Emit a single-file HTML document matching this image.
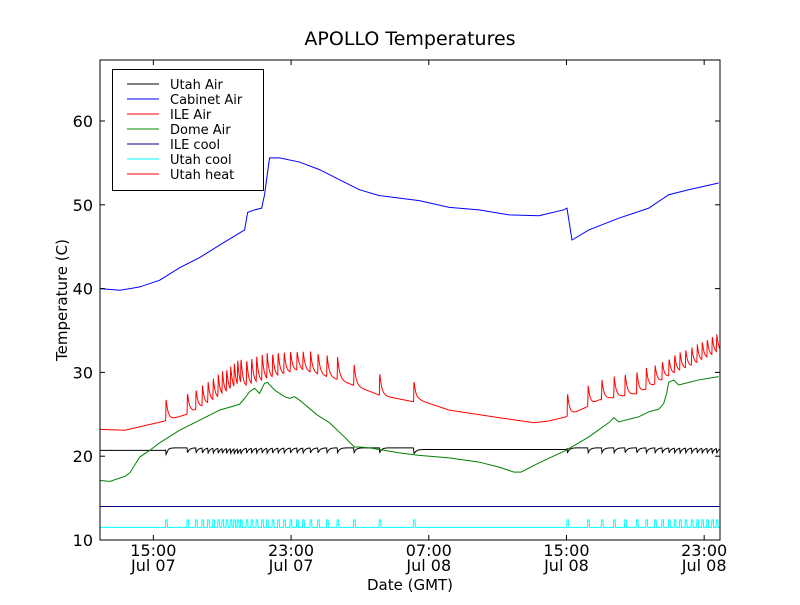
<!DOCTYPE html>
<html><head><meta charset="utf-8"><style>
body{margin:0;background:#fff;}
svg text{font-family:"DejaVu Sans","Liberation Sans",sans-serif;}
</style></head><body>
<svg id="chart" width="800" height="600" xmlns="http://www.w3.org/2000/svg">
<rect width="800" height="600" fill="#fff"/>
<text x="410" y="45" font-size="19" text-anchor="middle">APOLLO Temperatures</text>
<g id="series"></g>
<rect x="100" y="60" width="620" height="480" fill="none" stroke="#000" stroke-width="1"/>
<g id="axes"></g>
<text x="410" y="590" font-size="15" text-anchor="middle">Date (GMT)</text>
<text transform="translate(67,300) rotate(-90)" font-size="15" text-anchor="middle">Temperature (C)</text>
<g>
<rect x="112.5" y="69.5" width="151" height="121" fill="#fff" stroke="#000" stroke-width="1"/>
<g font-size="13">
<line x1="127" x2="159" y1="84" y2="84" stroke="#000"/><text x="170" y="89">Utah Air</text>
<line x1="127" x2="159" y1="99" y2="99" stroke="#00f"/><text x="170" y="104">Cabinet Air</text>
<line x1="127" x2="159" y1="114" y2="114" stroke="#f00"/><text x="170" y="119">ILE Air</text>
<line x1="127" x2="159" y1="129" y2="129" stroke="#080"/><text x="170" y="134">Dome Air</text>
<line x1="127" x2="159" y1="144" y2="144" stroke="#000080"/><text x="170" y="149">ILE cool</text>
<line x1="127" x2="159" y1="159" y2="159" stroke="#0ff"/><text x="170" y="164">Utah cool</text>
<line x1="127" x2="159" y1="174" y2="174" stroke="#f00"/><text x="170" y="179">Utah heat</text>
</g></g>
</svg>
<script>
// Time in hours since 00:00 Jul 07 (GMT); series times below are offset by timeCorrection
const timeCorrection = 0.49;
const xTicks = [15, 23, 31, 39, 47];
const xTickTime = ["15:00", "23:00", "07:00", "15:00", "23:00"];
const xTickDate = ["Jul 07", "Jul 07", "Jul 08", "Jul 08", "Jul 08"];
const yTicks = [10, 20, 30, 40, 50, 60];
const pulseTimes = [15.23,16.47,16.97,17.34,17.67,17.97,18.26,18.50,18.75,18.98,19.19,19.39,19.58,19.91,20.20,20.49,20.81,21.10,21.42,21.74,22.09,22.46,22.84,23.19,23.62,24.06,24.58,25.19,26.15,27.64,29.63,38.55,39.75,40.55,41.26,41.90,42.58,43.13,43.64,44.06,44.45,44.78,45.09,45.42,45.77,46.09,46.38,46.67,46.96,47.22];
const cabinetTimes = [11.41,12.57,13.72,14.88,16.04,17.20,18.36,19.81,19.99,20.39,20.80,20.97,21.26,21.84,23.00,24.16,25.32,26.48,27.64,28.80,29.96,31.70,33.43,35.17,36.91,38.36,38.54,38.83,39.81,41.55,43.29,44.45,45.61,47.35];
const cabinetValues = [40.0,39.8,40.2,41.0,42.5,43.7,45.2,47.0,49.1,49.4,49.6,51.2,55.6,55.6,55.1,54.2,53.0,51.8,51.1,50.8,50.5,49.7,49.4,48.8,48.7,49.4,49.6,45.8,47.0,48.4,49.6,51.2,51.8,52.6];
const ileBaseTimes = [11.41,12.86,15.17,16.45,18.94,20.68,23.00,25.32,27.64,29.61,29.96,31.70,34.59,36.62,37.49,38.48,39.70,40.39,42.71,44.45,46.19,47.35];
const ileBaseValues = [23.2,23.1,24.2,25.0,27.5,28.7,30.3,29.1,27.3,26.5,26.7,25.5,24.6,24.0,24.2,24.7,25.9,26.7,27.5,29.5,31.1,32.3];
const ilePeaks = [27.3,28.1,28.4,28.8,29.2,29.6,30.0,30.3,30.6,30.9,31.2,31.4,31.6,31.9,32.1,32.3,32.5,32.6,32.7,32.8,32.8,32.9,32.9,32.9,32.9,32.8,32.6,32.4,31.5,30.5,29.5,28.1,28.9,29.6,30.0,30.4,30.7,31.0,31.3,31.7,32.0,32.4,32.7,33.0,33.3,33.6,33.9,34.2,34.5,34.7];
const domeTimes = [11.41,11.99,12.86,13.14,13.72,14.30,14.88,16.04,17.20,18.36,19.52,19.81,20.10,20.39,20.68,20.97,21.14,21.55,22.13,22.42,22.71,23.00,23.29,23.58,24.04,24.74,25.61,26.19,26.48,27.06,28.80,29.96,31.70,33.43,34.59,35.46,35.87,36.91,38.48,39.81,40.97,41.26,41.55,42.71,43.29,43.87,44.16,44.33,44.45,44.74,45.03,46.19,47.35];
const domeValues = [17.1,17.0,17.6,18.0,19.9,20.7,21.6,23.1,24.3,25.5,26.2,26.9,27.7,28.1,27.5,28.7,28.8,27.9,27.1,26.9,27.1,26.7,26.2,25.7,24.9,24.0,22.3,21.1,21.1,21.0,20.4,20.1,19.8,19.3,18.7,18.1,18.1,19.2,20.7,22.3,24.0,24.6,24.1,24.7,25.3,25.6,26.3,27.5,28.8,29.1,28.5,29.1,29.5];
const utahAirTimes = [11.41,15.20,15.40,29.60,29.70,38.50,38.60,47.35];
const utahAirValues = [20.7,20.7,21.0,21.0,20.8,20.8,21.0,21.0];
const utahDip = 0.7;
const ileCool = 14.0;
const utahCoolBase = 11.5;
const utahCoolHigh = 12.4;

const X0=100,X1=720,Y0=540,Y1=60,TMIN=11.90,TMAX=47.92,VMIN=10,VMAX=67.28;
const sx=t=>X0+(t-TMIN)/(TMAX-TMIN)*(X1-X0);
const sxd=t=>sx(t+timeCorrection);
const sy=v=>Y0-(v-VMIN)/(VMAX-VMIN)*(Y0-Y1);
const NS="http://www.w3.org/2000/svg";
const series=document.getElementById('series');
const axes=document.getElementById('axes');
function interp(ts,vs,t){if(t<=ts[0])return vs[0];for(let i=1;i<ts.length;i++){if(t<=ts[i]){const f=(t-ts[i-1])/(ts[i]-ts[i-1]);return vs[i-1]+f*(vs[i]-vs[i-1]);}}return vs[vs.length-1];}
function path(pts,color,name){const p=document.createElementNS(NS,'path');p.setAttribute('d','M'+pts.map(q=>sxd(q[0]).toFixed(2)+','+sy(q[1]).toFixed(2)).join('L'));p.setAttribute('fill','none');p.setAttribute('stroke',color);p.setAttribute('stroke-width','1');


series.appendChild(p);}
const clip=document.createElementNS(NS,'clipPath');clip.id='pc';const cr=document.createElementNS(NS,'rect');cr.setAttribute('x',X0);cr.setAttribute('y',Y1);cr.setAttribute('width',X1-X0);cr.setAttribute('height',Y0-Y1);clip.appendChild(cr);document.getElementById('chart').appendChild(clip);series.setAttribute('clip-path','url(#pc)');
const DT0=TMIN-timeCorrection-0.1, DT1=TMAX-timeCorrection+0.1;
const N=2400,dt=(DT1-DT0)/N;
path([[DT0,ileCool],[DT1,ileCool]],'#000080','ile-cool-line');
{const pts=[[DT0,utahCoolBase]];pulseTimes.forEach(t=>{pts.push([t-0.02,utahCoolBase],[t,utahCoolHigh],[t+0.08,utahCoolHigh],[t+0.1,utahCoolBase]);});pts.push([DT1,utahCoolBase]);path(pts,'#00ffff','utah-cool-line');}
{const pts=[];for(let i=0;i<=N;i++){const t=DT0+i*dt;let v=interp(utahAirTimes,utahAirValues,t);pulseTimes.forEach(p=>{if(t>=p){const d=t-p;v-=utahDip*Math.exp(-d/0.12)*Math.min(1,d/0.02);}});pts.push([t,v]);}path(pts,'#000','utah-air-line');}
path(domeTimes.map((t,i)=>[t,domeValues[i]]),'#008000','dome-air-line');
{const pts=[];for(let i=0;i<=N;i++){const t=DT0+i*dt;let v=interp(ileBaseTimes,ileBaseValues,t);pulseTimes.forEach((p,k)=>{if(t>=p){const d=t-p;const a=ilePeaks[k]-interp(ileBaseTimes,ileBaseValues,p);v+=a*Math.exp(-d/0.12)*Math.min(1,d/0.02);}});pts.push([t,v]);}path(pts,'#ff0000','ile-air-line');}
path(cabinetTimes.map((t,i)=>[t,cabinetValues[i]]),'#0000ff','cabinet-air-line');
yTicks.forEach(v=>{const y=sy(v);
[[X0,X0+5],[X1-5,X1]].forEach(s=>{const l=document.createElementNS(NS,'line');l.setAttribute('x1',s[0]);l.setAttribute('x2',s[1]);l.setAttribute('y1',y);l.setAttribute('y2',y);l.setAttribute('stroke','#000');


axes.appendChild(l);});
const tx=document.createElementNS(NS,'text');tx.setAttribute('x',X0-7);tx.setAttribute('y',y+6);tx.setAttribute('text-anchor','end');tx.setAttribute('font-size','16');tx.textContent=v;


axes.appendChild(tx);});
xTicks.forEach((t,i)=>{const x=sx(t);
[[Y0,Y0-5],[Y1,Y1+5]].forEach(s=>{const l=document.createElementNS(NS,'line');l.setAttribute('x1',x);l.setAttribute('x2',x);l.setAttribute('y1',s[0]);l.setAttribute('y2',s[1]);l.setAttribute('stroke','#000');


axes.appendChild(l);});
[[xTickTime[i],Y0+16],[xTickDate[i],Y0+31]].forEach(s=>{const tx=document.createElementNS(NS,'text');tx.setAttribute('x',x);tx.setAttribute('y',s[1]);tx.setAttribute('text-anchor','middle');tx.setAttribute('font-size','16');tx.textContent=s[0];


axes.appendChild(tx);});});
</script>
</body></html>
